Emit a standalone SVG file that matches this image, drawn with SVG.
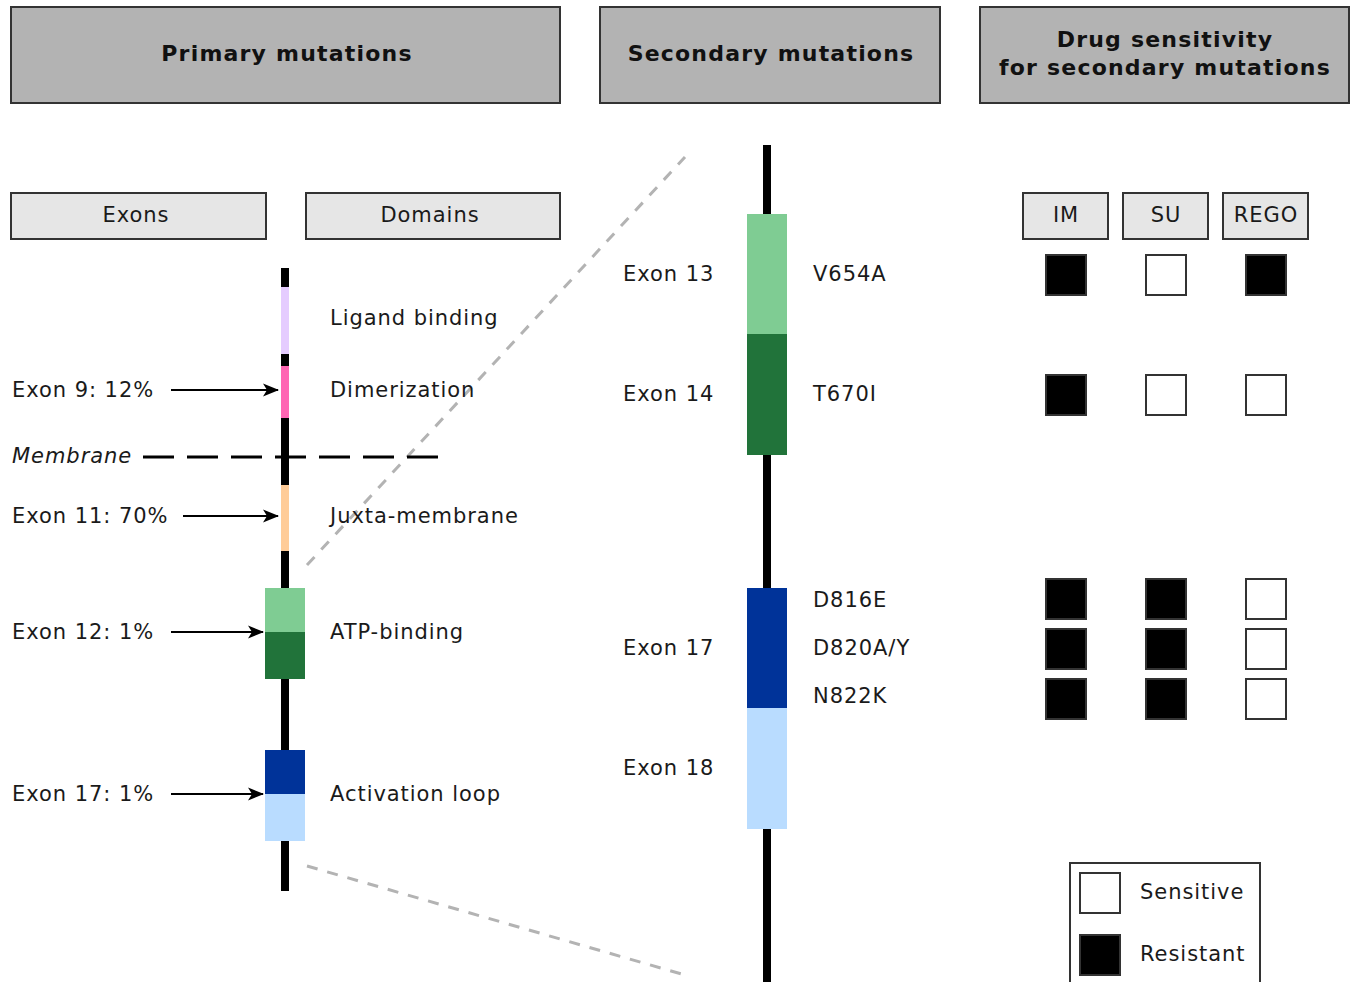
<svg xmlns="http://www.w3.org/2000/svg" width="1350" height="982" viewBox="0 0 1350 982">
<defs>
<style>
text{font-family:"DejaVu Sans",Verdana,sans-serif;font-size:21px;letter-spacing:0.95px;fill:#1a1a1a}
.h{font-weight:bold;font-size:22px;letter-spacing:1.2px;text-anchor:middle;fill:#111}
.c{text-anchor:middle}
.hdr{fill:#b3b3b3;stroke:#333;stroke-width:2}
.sub{fill:#e6e6e6;stroke:#333;stroke-width:2}
.res{fill:#000;stroke:#333;stroke-width:2}
.sen{fill:#fff;stroke:#333;stroke-width:2}
.arr{stroke:#000;stroke-width:2;fill:none;marker-end:url(#ah)}
.gd{stroke:#b3b3b3;stroke-width:3;stroke-dasharray:11 10;fill:none}
</style>
<marker id="ah" viewBox="0 0 16 14" refX="15" refY="7" markerWidth="16" markerHeight="14" markerUnits="userSpaceOnUse" orient="auto">
<path d="M0,0.5 L16,7 L0,13.5 L4,7 Z" fill="#000"/>
</marker>
</defs>
<rect width="1350" height="982" fill="#fff"/>

<g id="header-primary"><rect class="hdr" x="11" y="7" width="549" height="96"/><text class="h" x="287" y="61">Primary mutations</text></g>
<g id="header-secondary"><rect class="hdr" x="600" y="7" width="340" height="96"/><text class="h" x="771" y="61">Secondary mutations</text></g>
<g id="header-drug"><rect class="hdr" x="980" y="7" width="369" height="96"/><text class="h" x="1165" y="47">Drug sensitivity</text><text class="h" x="1165" y="75">for secondary mutations</text></g>

<g id="exons-box"><rect class="sub" x="11" y="193" width="255" height="46"/><text class="c" x="136" y="222">Exons</text></g>
<g id="domains-box"><rect class="sub" x="306" y="193" width="254" height="46"/><text class="c" x="430" y="222">Domains</text></g>

<g id="connectors">
<line class="gd" x1="307" y1="565" x2="685" y2="157"/>
<line class="gd" x1="307" y1="866" x2="685" y2="975"/>
<line x1="143" y1="457" x2="440" y2="457" stroke="#000" stroke-width="3" stroke-dasharray="31 13"/>
<line class="arr" x1="171" y1="390" x2="278" y2="390"/>
<line class="arr" x1="183" y1="516" x2="278" y2="516"/>
<line class="arr" x1="171" y1="632" x2="263" y2="632"/>
<line class="arr" x1="171" y1="794" x2="263" y2="794"/>
</g>

<g id="primary-protein">
<rect x="281" y="268" width="8" height="623" fill="#000"/>
<rect x="281" y="287" width="8" height="67" fill="#E5CCFF"/>
<rect x="281" y="366" width="8" height="52" fill="#FF66B3"/>
<rect x="281" y="485" width="8" height="66" fill="#FFCC99"/>
<rect x="265" y="588" width="40" height="44" fill="#7FCC93"/>
<rect x="265" y="632" width="40" height="47" fill="#21733A"/>
<rect x="265" y="750" width="40" height="44" fill="#003399"/>
<rect x="265" y="794" width="40" height="47" fill="#B9DCFF"/>
</g>

<g id="primary-labels">
<text x="330" y="325">Ligand binding</text>
<text x="330" y="397">Dimerization</text>
<text x="330" y="523">Juxta-membrane</text>
<text x="330" y="639">ATP-binding</text>
<text x="330" y="801">Activation loop</text>
<text x="12" y="397">Exon 9: 12%</text>
<text x="12" y="463" font-style="italic">Membrane</text>
<text x="12" y="523">Exon 11: 70%</text>
<text x="12" y="639">Exon 12: 1%</text>
<text x="12" y="801">Exon 17: 1%</text>
</g>

<g id="secondary-protein">
<rect x="763" y="145" width="8" height="837" fill="#000"/>
<rect x="747" y="214" width="40" height="120" fill="#7FCC93"/>
<rect x="747" y="334" width="40" height="121" fill="#21733A"/>
<rect x="747" y="588" width="40" height="120" fill="#003399"/>
<rect x="747" y="708" width="40" height="121" fill="#B9DCFF"/>
</g>

<g id="secondary-labels">
<text x="623" y="281">Exon 13</text>
<text x="623" y="401">Exon 14</text>
<text x="623" y="655">Exon 17</text>
<text x="623" y="775">Exon 18</text>
<text x="813" y="281">V654A</text>
<text x="813" y="401">T670I</text>
<text x="813" y="607">D816E</text>
<text x="813" y="655">D820A/Y</text>
<text x="813" y="703">N822K</text>
</g>

<g id="drug-im"><rect class="sub" x="1023" y="193" width="85" height="46"/><text class="c" x="1066" y="222">IM</text></g>
<g id="drug-su"><rect class="sub" x="1123" y="193" width="85" height="46"/><text class="c" x="1166" y="222">SU</text></g>
<g id="drug-rego"><rect class="sub" x="1223" y="193" width="85" height="46"/><text class="c" x="1266" y="222">REGO</text></g>

<g id="sensitivity-grid">
<rect class="res" x="1046" y="255" width="40" height="40"/>
<rect class="sen" x="1146" y="255" width="40" height="40"/>
<rect class="res" x="1246" y="255" width="40" height="40"/>
<rect class="res" x="1046" y="375" width="40" height="40"/>
<rect class="sen" x="1146" y="375" width="40" height="40"/>
<rect class="sen" x="1246" y="375" width="40" height="40"/>
<rect class="res" x="1046" y="579" width="40" height="40"/>
<rect class="res" x="1146" y="579" width="40" height="40"/>
<rect class="sen" x="1246" y="579" width="40" height="40"/>
<rect class="res" x="1046" y="629" width="40" height="40"/>
<rect class="res" x="1146" y="629" width="40" height="40"/>
<rect class="sen" x="1246" y="629" width="40" height="40"/>
<rect class="res" x="1046" y="679" width="40" height="40"/>
<rect class="res" x="1146" y="679" width="40" height="40"/>
<rect class="sen" x="1246" y="679" width="40" height="40"/>
</g>

<g id="legend">
<rect x="1070" y="863" width="190" height="130" fill="#fff" stroke="#333" stroke-width="2"/>
<rect class="sen" x="1080" y="873" width="40" height="40"/>
<text x="1140" y="899">Sensitive</text>
<rect class="res" x="1080" y="935" width="40" height="40"/>
<text x="1140" y="961">Resistant</text>
</g>
</svg>
